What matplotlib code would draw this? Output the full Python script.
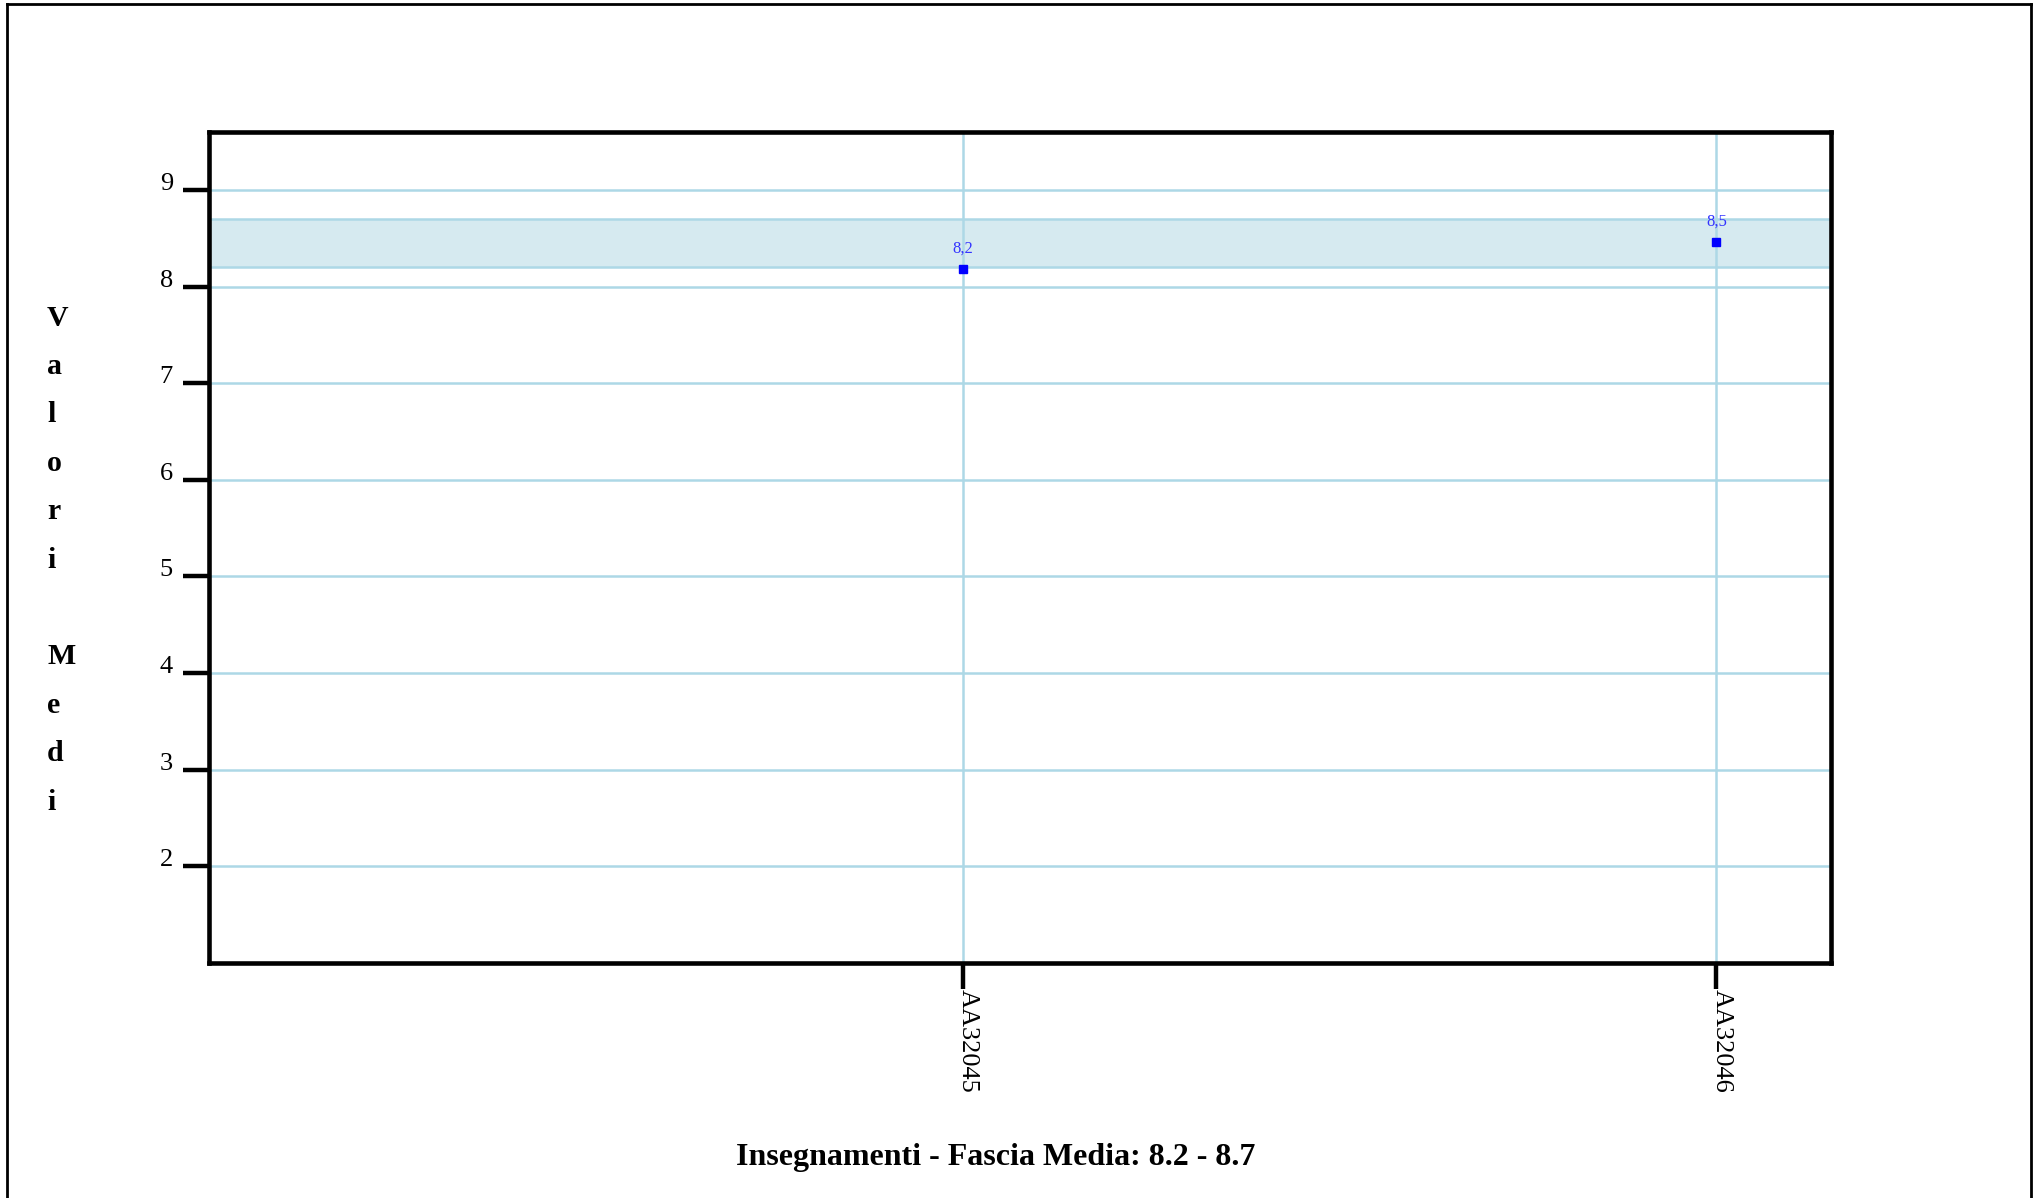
import matplotlib
matplotlib.use("Agg")
import matplotlib.pyplot as plt
from matplotlib.lines import Line2D
from matplotlib.transforms import ScaledTranslation

categories = ["AA32045", "AA32046"]
values = [8.18, 8.46]
band_low, band_high = 8.2, 8.7
yticks = [2, 3, 4, 5, 6, 7, 8, 9]
ylabel_text = "Valori Medi"
title_text = "Insegnamenti - Fascia Media: 8.2 - 8.7"

W, H = 2039, 1198
plt.rcParams['font.family'] = ['Liberation Serif', 'DejaVu Serif']
fig = plt.figure(figsize=(W / 100, H / 100), dpi=100)
ax = fig.add_axes([209 / W, 1 - 963 / H, (1831 - 209) / W, (963 - 132) / H])

grid_c = '#add8e6'
xs = list(range(1, len(categories) + 1))

ax.set_xlim(0, 2.152)
ax.set_ylim(1.0, 9.6)

ax.axhspan(band_low, band_high, color='#d6eaf0', zorder=0, lw=0)
for yv in yticks + [band_low, band_high]:
    ax.axhline(yv, color=grid_c, lw=1.8, zorder=1)
for xv in xs:
    ax.axvline(xv, color=grid_c, lw=1.8, zorder=1)

ax.plot(xs, values, linestyle='none', marker='s', markersize=6,
        color='#0000ff', zorder=3)
for xv, v in zip(xs, values):
    ax.annotate(f"{v:.1f}".replace('.', ','), (xv, v), xytext=(0, 9),
                textcoords='offset points', ha='center', va='bottom',
                fontsize=12, color='#3333ff', zorder=4)

for s in ax.spines.values():
    s.set_linewidth(3.3)
    s.set_color('black')

ax.set_yticks(yticks)
ax.set_yticklabels([str(t) for t in yticks], fontsize=19, va='baseline')
ax.tick_params(axis='y', direction='out', length=19, width=3.2, pad=7)

ax.set_xticks(xs)
ax.set_xticklabels(categories, fontsize=19, rotation=270, ha='left', va='top',
                   rotation_mode='default')
ax.tick_params(axis='x', direction='out', length=19, width=3.2, pad=0)
shift = ScaledTranslation(-6 / 100, 0, fig.dpi_scale_trans)
for lab in ax.get_xticklabels():
    lab.set_transform(lab.get_transform() + shift)

# vertical stacked y label
for i, ch in enumerate(ylabel_text):
    if ch == ' ':
        continue
    fig.text(47 / W, 1 - (318 + i * 48.4) / H, ch, fontsize=21.5,
             fontweight='bold', ha='left', va='center')

fig.text(996 / W, 1 - 1157 / H, title_text, fontsize=23, fontweight='bold',
         ha='center', va='center')

# outer border
fig.add_artist(Line2D([7 / W, 7 / W], [0, 1 - 4 / H], transform=fig.transFigure,
                      color='black', lw=2))
fig.add_artist(Line2D([7 / W, 2031 / W], [1 - 4 / H, 1 - 4 / H],
                      transform=fig.transFigure, color='black', lw=2))
fig.add_artist(Line2D([2031 / W, 2031 / W], [0, 1 - 4 / H],
                      transform=fig.transFigure, color='black', lw=2))

fig.savefig("out.png", dpi=100, facecolor='white')
